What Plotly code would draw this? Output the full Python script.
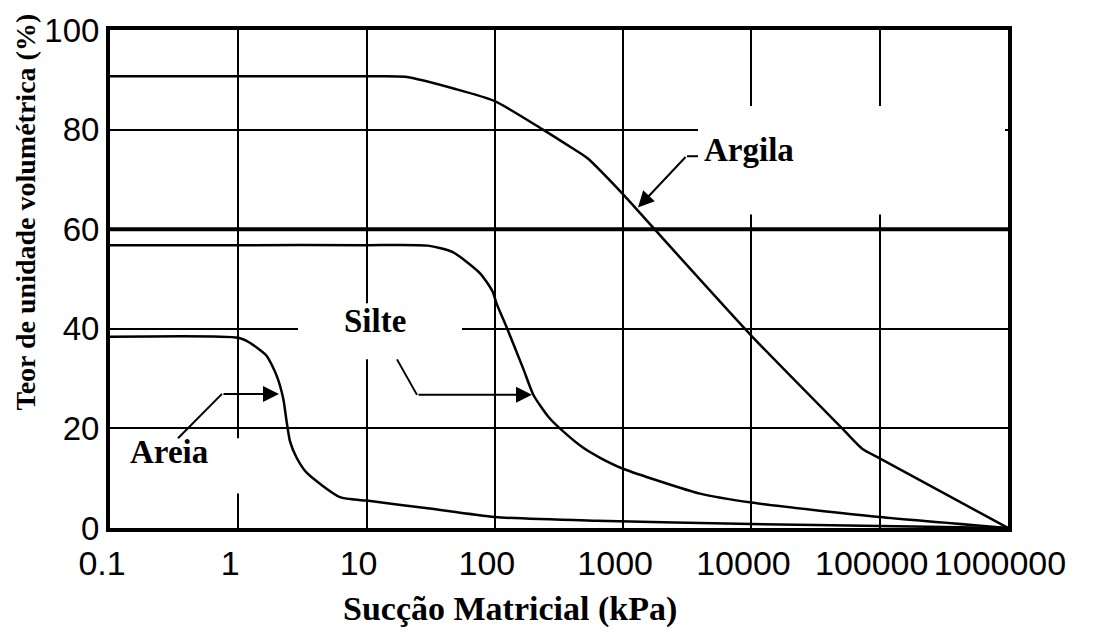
import plotly.graph_objects as go

# ---------------- data ----------------
argila_x = [0.1, 1, 10, 20, 50, 100, 237, 400, 525, 1000, 1700, 10000, 51000, 74000, 100000, 1000000]
argila_y = [90.7, 90.7, 90.7, 90.6, 88.1, 85.7, 80, 76.3, 74.3, 67, 60.4, 38.6, 20, 15.8, 14, 0]

silte_x = [0.1, 1, 10, 30, 47, 77, 96, 103, 124, 167, 200, 260, 341, 489, 661, 1000, 3980, 10000, 100000, 1000000]
silte_y = [56.8, 56.8, 56.8, 56.7, 55.4, 51.1, 47.5, 45.1, 40.2, 31.9, 26.7, 22.4, 19.4, 16.1, 14.1, 11.9, 6.9, 5.1, 2.2, 0]

areia_x = [0.1, 1, 1.23, 1.66, 1.99, 2.24, 2.38, 2.53, 2.85, 3.41, 6.2, 10, 31, 100, 621, 10000, 100000, 1000000]
areia_y = [38.4, 38.2, 37.2, 34.6, 30.6, 26, 21.4, 17.4, 14.1, 11.1, 6.2, 5.5, 3.9, 2.2, 1.45, 0.8, 0.4, 0]

x_tick_vals = [0.1, 1, 10, 100, 1000, 10000, 100000, 1000000]
x_tick_text = ["0.1", "1", "10", "100", "1000", "10000", "100000", "1000000"]
y_tick_vals = [0, 20, 40, 60, 80, 100]

x_title = "Sucção Matricial (kPa)"
y_title = "Teor de unidade volumétrica (%)"
labels = ["Argila", "Silte", "Areia"]

# ---------------- figure geometry ----------------
W, H = 1097, 634
L, R, T, B = 110, 1008, 23, 528


def px(x):
    return (x - L) / (R - L)


def py(y):
    return (B - y) / (B - T)


fig = go.Figure()
for xs, ys, name in [(argila_x, argila_y, labels[0]), (silte_x, silte_y, labels[1]), (areia_x, areia_y, labels[2])]:
    fig.add_trace(go.Scatter(x=xs, y=ys, mode="lines", name=name,
                             line=dict(color="black", width=2.5, shape="spline", smoothing=0.6),
                             showlegend=False, hoverinfo="x+y+name"))

serif = "Liberation Serif, Times New Roman, serif"
sans = "Liberation Sans, Arial, sans-serif"

fig.update_layout(
    width=W, height=H,
    margin=dict(l=L, r=W - R, t=T, b=H - B, pad=0),
    paper_bgcolor="white", plot_bgcolor="white",
    xaxis=dict(type="log", range=[-1, 6], tickvals=x_tick_vals, ticktext=x_tick_text,
               showgrid=True, gridcolor="black", gridwidth=2,
               showline=True, linecolor="black", linewidth=4, mirror=True,
               ticks="", ticklabelstandoff=2, ticklabelshift=-8, zeroline=False,
               tickfont=dict(family=sans, size=34, color="black")),
    yaxis=dict(range=[0, 100], tickvals=y_tick_vals,
               showgrid=True, gridcolor="black", gridwidth=2,
               showline=True, linecolor="black", linewidth=4, mirror=True,
               ticks="", ticklabelstandoff=0, zeroline=False,
               tickfont=dict(family=sans, size=33, color="black")),
)

# thicker 60% line
fig.add_shape(type="line", xref="paper", yref="y", x0=0, x1=1, y0=60, y1=60,
              line=dict(color="black", width=4), layer="below")

# white masks breaking the grid behind the labels (no curve passes through them)
for (x0, x1, y0, y1) in [(698, 1005, 100, 210), (298, 462, 300, 357), (114, 270, 437, 493)]:
    fig.add_shape(type="rect", xref="paper", yref="paper",
                  x0=px(x0), x1=px(x1), y0=py(y1), y1=py(y0),
                  fillcolor="white", line=dict(width=0), layer="above")

# axis titles
fig.add_annotation(text="<b>" + x_title + "</b>", xref="paper", yref="paper",
                   x=px(510), y=py(610), showarrow=False, xanchor="center", yanchor="middle",
                   font=dict(family=serif, size=34, color="black"))
fig.add_annotation(text="<b>" + y_title + "</b>", xref="paper", yref="paper",
                   x=px(25), y=py(208), showarrow=False, xanchor="center", yanchor="middle",
                   textangle=-90, font=dict(family=serif, size=28, color="black"))

# curve labels
for text, cx, cy in [(labels[0], 749, 145), (labels[1], 375, 318), (labels[2], 169, 451)]:
    fig.add_annotation(text="<b>" + text + "</b>", xref="paper", yref="paper",
                       x=px(cx), y=py(cy), showarrow=False, xanchor="center", yanchor="middle",
                       font=dict(family=serif, size=33, color="black"))

# leader lines (plain segments)
for (x0, y0, x1, y1) in [(687, 151, 698, 151), (397, 357, 417, 393), (178, 437, 222, 392)]:
    fig.add_shape(type="line", xref="paper", yref="paper",
                  x0=px(x0), y0=py(y0), x1=px(x1), y1=py(y1),
                  line=dict(color="black", width=2), layer="above")

# arrow segments (head position in paper coords, tail given as pixel offset)
for (tx, ty, hx, hy) in [(687, 151, 638, 203), (417, 393, 532, 393), (222, 392, 279, 392)]:
    fig.add_annotation(x=px(hx), y=py(hy), ax=tx - hx, ay=ty - hy,
                       xref="paper", yref="paper", axref="pixel", ayref="pixel",
                       text="", showarrow=True, arrowhead=2, arrowsize=1.6, arrowwidth=2,
                       arrowcolor="black", standoff=0, startstandoff=0)

fig.write_html("out.html")
